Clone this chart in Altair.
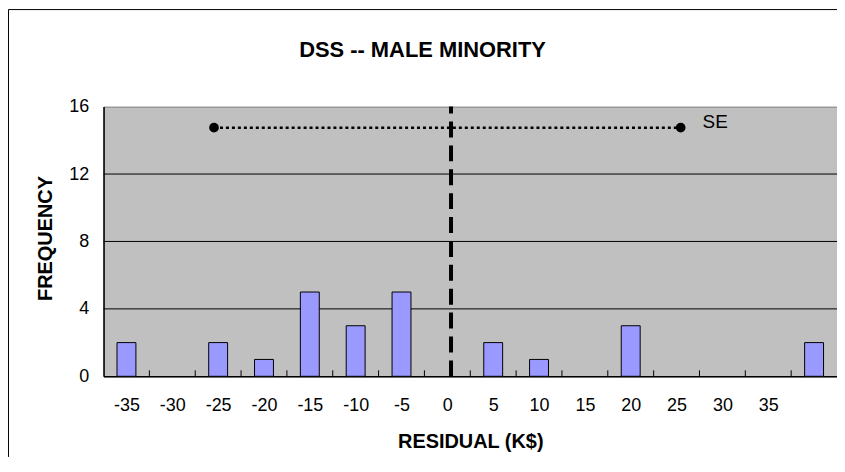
import altair as alt
import pandas as pd

# ---- data ----
residual = [-35, -30, -25, -20, -15, -10, -5, 0, 5, 10, 15, 20, 25, 30, 35, 40]
frequency = [2, 0, 2, 1, 5, 3, 5, 0, 2, 1, 0, 3, 0, 0, 0, 2]
x_tick_labels = [-35, -30, -25, -20, -15, -10, -5, 0, 5, 10, 15, 20, 25, 30, 35]
y_tick_values = [0, 4, 8, 12, 16]
grid_values = [4, 8, 12]
bin_boundaries = [-32.5, -27.5, -22.5, -17.5, -12.5, -7.5, -2.5, 2.5, 7.5, 12.5,
                  17.5, 22.5, 27.5, 32.5, 37.5]
mean_residual = 0.4
se_half_width = 25.45
se_level = 14.75
se_label = "SE"

FONT = "Liberation Sans"
W, H = 737, 271

bars_df = pd.DataFrame({"residual": residual, "frequency": frequency})
grid_df = pd.DataFrame({"g": grid_values})
bound_df = pd.DataFrame({"b": bin_boundaries})
mean_df = pd.DataFrame({"m": [mean_residual], "y0": [0], "y1": [16]})
se_df = pd.DataFrame({"x": [-se_half_width, se_half_width], "y": [se_level, se_level]})
se_lab_df = pd.DataFrame({"x": [se_half_width], "y": [se_level], "t": [se_label]})
frame_df = pd.DataFrame({"k": [0]})

xscale = alt.Scale(domain=[-37.5, 42.5], nice=False, zero=False, padding=0)
yscale = alt.Scale(domain=[0, 16], nice=False, padding=0)

hyphen_label = "datum.value < 0 ? '-' + abs(datum.value) : '' + datum.value"

xaxis = alt.Axis(values=x_tick_labels, title="RESIDUAL (K$)", grid=False,
                 ticks=False, labelPadding=20, labelFontSize=18,
                 labelFont=FONT, labelColor="black", labelExpr=hyphen_label,
                 domainColor="black", domainWidth=1.5,
                 titleFont=FONT, titleFontSize=20, titleFontWeight="bold",
                 titleColor="black", titleBaseline="alphabetic",
                 titleY=72, labelFlush=False)
yaxis = alt.Axis(values=y_tick_values, title="FREQUENCY", grid=False,
                 ticks=False, labelPadding=15, labelFontSize=18,
                 labelFont=FONT, labelColor="black",
                 domainColor="black", domainWidth=1.5,
                 titleFont=FONT, titleFontSize=20, titleFontWeight="bold",
                 titleColor="black", titleBaseline="alphabetic",
                 titleX=-52, titleY=132, labelFlush=False)

grid = alt.Chart(grid_df).mark_rule(color="black", strokeWidth=1).encode(
    y=alt.Y("g:Q", scale=yscale, axis=yaxis),
    x=alt.value(0), x2=alt.value(W),
)

bars = alt.Chart(bars_df).transform_filter("datum.frequency > 0").mark_bar(
    size=19, color="#9999FF", stroke="black", strokeWidth=1).encode(
    x=alt.X("residual:Q", scale=xscale, axis=xaxis),
    y=alt.Y("frequency:Q", scale=yscale, axis=yaxis),
)

ticks = alt.Chart(bound_df).mark_rule(color="black", strokeWidth=1).encode(
    x=alt.X("b:Q", scale=xscale, axis=xaxis),
    y=alt.value(H), y2=alt.value(H - 6),
)

mean_line = alt.Chart(mean_df).mark_rule(color="black", strokeWidth=4,
                                         strokeDash=[16, 8]).encode(
    x=alt.X("m:Q", scale=xscale, axis=xaxis),
    y=alt.Y("y0:Q", scale=yscale, axis=yaxis),
    y2="y1:Q",
)

se_line = alt.Chart(se_df).mark_line(color="black", strokeWidth=2.5,
                                     strokeDash=[3, 3]).encode(
    x=alt.X("x:Q", scale=xscale, axis=xaxis),
    y=alt.Y("y:Q", scale=yscale, axis=yaxis),
)

se_pts = alt.Chart(se_df).mark_point(filled=True, color="black", size=95,
                                     opacity=1).encode(
    x=alt.X("x:Q", scale=xscale, axis=xaxis),
    y=alt.Y("y:Q", scale=yscale, axis=yaxis),
)

se_text = alt.Chart(se_lab_df).mark_text(align="left", baseline="middle", dx=22,
                                         dy=-6, font=FONT, fontSize=19,
                                         color="black").encode(
    x=alt.X("x:Q", scale=xscale, axis=xaxis),
    y=alt.Y("y:Q", scale=yscale, axis=yaxis),
    text="t:N",
)

frame_left = alt.Chart(frame_df).mark_rule(color="black", strokeWidth=1).encode(
    x=alt.value(-95.5), y=alt.value(-97.5), y2=alt.value(H + 81),
)
frame_top = alt.Chart(frame_df).mark_rule(color="black", strokeWidth=1).encode(
    x=alt.value(-95.5), x2=alt.value(W), y=alt.value(-97.5),
)

chart = alt.layer(grid, bars, ticks, mean_line, se_line, se_pts, se_text,
                  frame_left, frame_top).properties(
    width=W, height=H,
    autosize=alt.AutoSizeParams(type="none"),
    padding={"left": 96, "top": 98, "right": 0, "bottom": 81},
    title=alt.TitleParams("DSS -- MALE MINORITY", font=FONT,
                          fontSize=22, fontWeight="bold", color="black",
                          anchor="middle", frame="group", dx=-48, dy=21,
                          offset=-49, baseline="alphabetic"),
).configure(
    background="white",
    view=alt.ViewConfig(stroke="#808080", strokeWidth=1, fill="#C0C0C0"),
)

chart.save("out.html", embed_options={"renderer": "svg", "actions": False})
